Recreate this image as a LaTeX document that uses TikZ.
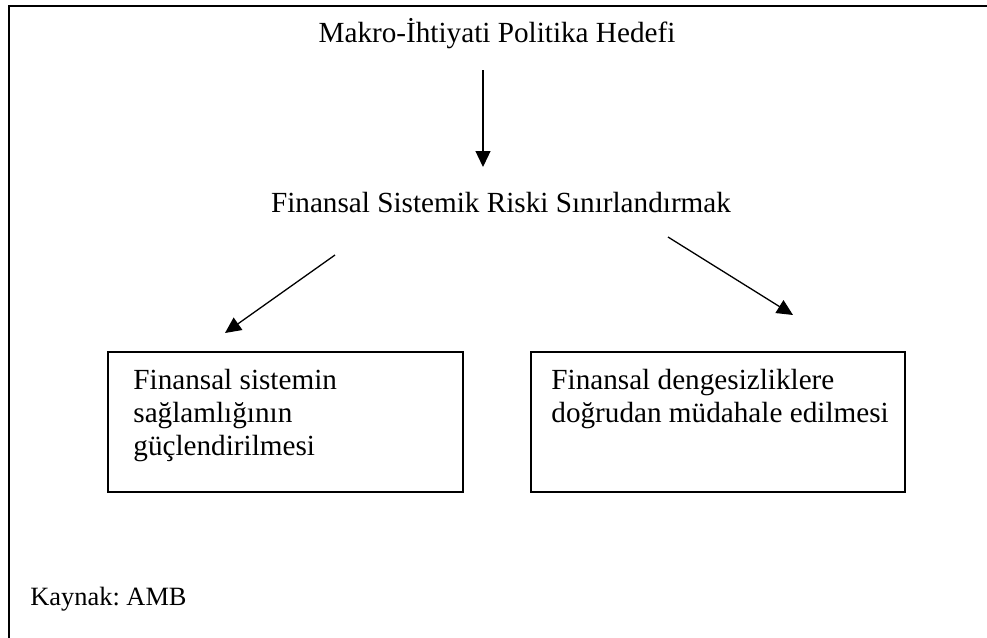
\documentclass[tikz,border=0pt]{standalone}
\usepackage{fontspec}
\setmainfont{Liberation Serif}
\usetikzlibrary{arrows.meta}

\begin{document}
\frenchspacing
\begin{tikzpicture}[x=0.5pt,y=-0.5pt,>={Triangle[length=8pt,width=7.5pt]},
    every node/.style={font=\fontsize{14.6pt}{16.5pt}\selectfont, inner sep=0pt},
    heading/.style={anchor=base},
    box/.style={draw, line width=0.65pt},
    boxtext/.style={anchor=north west, align=left},
    link/.style={->, line width=0.65pt}]
    \useasboundingbox (0,0) rectangle (987,638);
    % frame
    \draw[line width=1pt] (1000,6) -- (9,6) -- (9,650);

    \node[heading] (title) at (497,42) {Makro-İhtiyati Politika Hedefi};
    \node[heading] (goal) at (501,212) {Finansal Sistemik Riski Sınırlandırmak};

    \draw[box] (108,352) rectangle (463,492) node[midway] (lbox) {};
    \draw[box] (531,352) rectangle (905,492) node[midway] (rbox) {};
    \node[boxtext] (ltext) at (133,369) {Finansal sistemin\\sağlamlığının\\güçlendirilmesi};
    \node[boxtext] (rtext) at (551,369) {Finansal dengesizliklere\\doğrudan müdahale edilmesi};

    \node[anchor=base west, font=\fontsize{13.2pt}{16pt}\selectfont] (source) at (30,605) {Kaynak: AMB};

    % arrows
    \coordinate (t-end) at (483,70);
    \coordinate (g-top) at (483,167);
    \coordinate (g-left) at (335,255);
    \coordinate (l-top) at (225,333);
    \coordinate (g-right) at (668,237);
    \coordinate (r-top) at (793,315);
    \draw[link] (t-end) -- (g-top);
    \draw[link] (g-left) -- (l-top);
    \draw[link] (g-right) -- (r-top);
\end{tikzpicture}
\end{document}
